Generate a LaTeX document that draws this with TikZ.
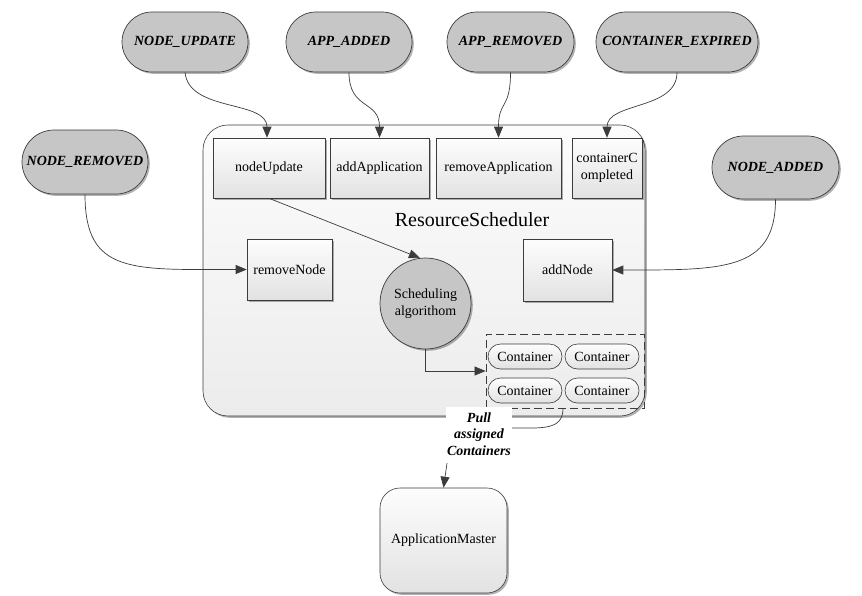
\documentclass[tikz,border=0pt]{standalone}
\usepackage{fontspec}
\setmainfont{Liberation Serif}
\usetikzlibrary{arrows.meta,shapes.misc,shapes.geometric,shadows}
\definecolor{evtfill}{RGB}{198,198,198}
\definecolor{linec}{RGB}{60,60,60}
\definecolor{boxtop}{RGB}{253,253,253}
\definecolor{boxbot}{RGB}{226,226,226}
\definecolor{bigtop}{RGB}{252,252,252}
\definecolor{bigbot}{RGB}{236,236,236}
\begin{document}
\begin{tikzpicture}[x=1pt,y=-1pt,
  shadowed/.style={drop shadow={shadow xshift=1.8pt,shadow yshift=-1.8pt,opacity=0.3,fill=black}},
  evt/.style={rounded rectangle, draw=linec, line width=0.7pt, fill=evtfill, minimum height=60,
    inner sep=0pt, font=\fontsize{14}{16}\selectfont\bfseries\itshape, shadowed},
  fnbox/.style={rectangle, draw=linec, line width=0.6pt, top color=boxtop, bottom color=boxbot,
    inner sep=1pt, font=\fontsize{14}{16.5}\selectfont, align=center, shadowed},
  cont/.style={rounded rectangle, draw=linec, line width=0.6pt, top color=boxtop, bottom color=boxbot,
    minimum width=74, minimum height=25, inner sep=0pt, font=\fontsize{14}{16}\selectfont},
  arr/.style={draw=linec, line width=0.7pt, -{Triangle[length=11pt,width=9pt]}},
  ln/.style={draw=linec, line width=0.7pt}
]
\useasboundingbox (0,0) rectangle (862,595);

% big ResourceScheduler box
\node[rectangle, rounded corners=25pt, draw=linec, line width=0.6pt, top color=bigtop, bottom color=bigbot,
  minimum width=442, minimum height=291, inner sep=0pt, shadowed] (rs) at (424,270.5) {};
\node[font=\fontsize{20}{22}\selectfont] (rstitle) at (472,220) {ResourceScheduler};

% event nodes
\node[evt, minimum width=126] (nu) at (185,42) {NODE\_UPDATE};
\node[evt, minimum width=126] (aa) at (349,42) {APP\_ADDED};
\node[evt, minimum width=127] (ar) at (510.5,42) {APP\_REMOVED};
\node[evt, minimum width=162] (ce) at (677,42) {CONTAINER\_EXPIRED};
\node[evt, minimum width=126, minimum height=64] (nr) at (85,162) {NODE\_REMOVED};
\node[evt, minimum width=127, minimum height=63] (na) at (775.5,167.5) {NODE\_ADDED};

% function boxes
\node[fnbox, minimum width=112, minimum height=60] (fnu) at (269,168) {nodeUpdate};
\node[fnbox, minimum width=99, minimum height=60] (faa) at (379.5,168) {addApplication};
\node[fnbox, minimum width=125, minimum height=60] (far) at (498.5,168) {removeApplication};
\node[fnbox, minimum width=70, minimum height=60] (fcc) at (607,168) {containerC\\ompleted};
\node[fnbox, minimum width=85, minimum height=61] (frn) at (289.5,269.5) {removeNode};
\node[fnbox, minimum width=89, minimum height=62] (fan) at (567.5,270) {addNode};

% scheduling algorithm
\node[circle, draw=linec, line width=0.7pt, fill=evtfill, minimum size=91, inner sep=0pt,
  font=\fontsize{14}{16.5}\selectfont, align=center, shadowed] (sched) at (425.5,303.5) {Scheduling\\algorithom};

% containers
\node[draw=linec, line width=0.8pt, dash pattern=on 8pt off 4pt, minimum width=158, minimum height=74,
  inner sep=0pt] (pool) at (565,371) {};
\node[cont] (c1) at (525,356.5) {Container};
\node[cont] (c2) at (602,356.5) {Container};
\node[cont] (c3) at (525,390.5) {Container};
\node[cont] (c4) at (602,390.5) {Container};

% pull label
\node[fill=white, inner sep=1pt, minimum width=65, minimum height=54, align=center,
  font=\fontsize{14}{16.5}\selectfont\bfseries\itshape] (pull) at (479,434) {Pull\\assigned\\Containers};

% application master
\node[rectangle, rounded corners=20pt, draw=linec, line width=0.6pt, top color=boxtop, bottom color=boxbot,
  minimum width=127, minimum height=105, inner sep=0pt, font=\fontsize{14}{16}\selectfont, shadowed]
  (am) at (443.5,540.5) {ApplicationMaster};

% connectors
\draw[arr] (nu.south) .. controls +(4,40) and +(0,-38) .. ([xshift=-2pt]fnu.north);
\draw[arr] (aa.south) .. controls +(0,38) and +(0,-38) .. (faa.north);
\draw[arr] (ar.south) .. controls +(0,38) and +(0,-38) .. (far.north);
\draw[arr] (ce.south) .. controls +(0,38) and +(0,-36) .. (fcc.north);
\draw[arr] (nr.south) .. controls +(0,80) and +(-115,0) .. (frn.west);
\draw[arr] (na.south) .. controls +(0,72) and +(110,0) .. (fan.east);
\draw[arr] (fnu.south) -- (sched.97);
\draw[arr] (sched.south) |- (pool.west);
\draw[ln] ([xshift=-2pt]pool.south) .. controls +(0,22) and +(30,0) .. ([yshift=6pt]pull.east);
\coordinate (pullout) at ([xshift=-32pt,yshift=-2pt]pull.south);
\draw[arr] (pullout) -- (am.north);
\end{tikzpicture}
\end{document}
